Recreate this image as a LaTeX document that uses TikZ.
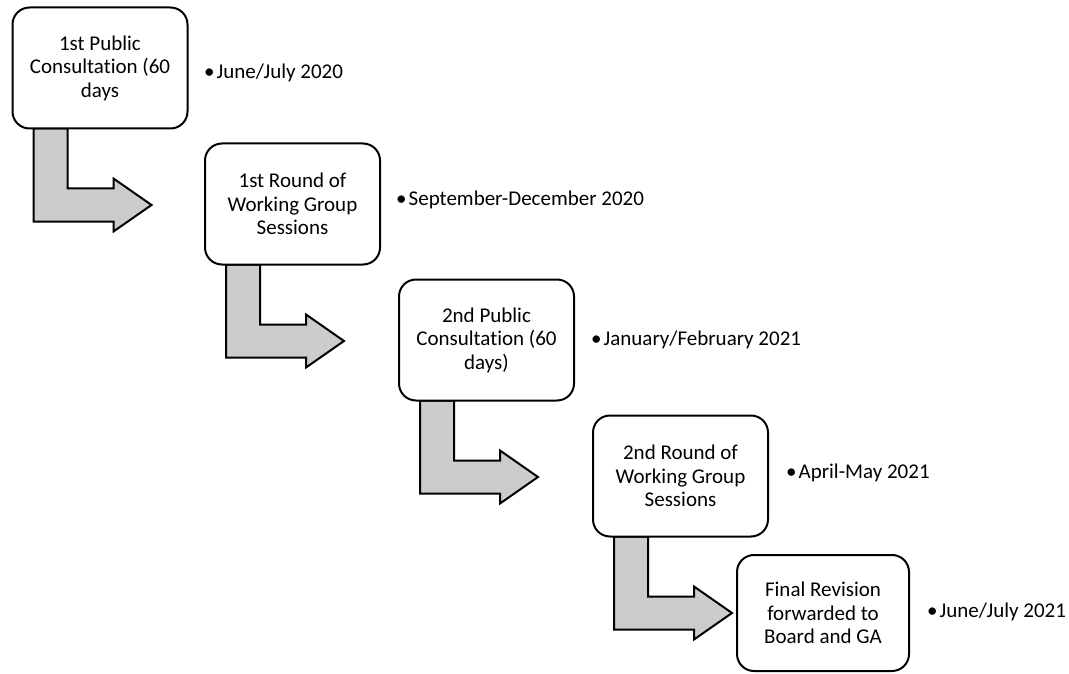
\documentclass[tikz,border=0pt]{standalone}
\usepackage{fontspec}
\setmainfont{Carlito}[Ligatures=NoCommon]
\definecolor{arrowgray}{RGB}{204,204,204}
\pgfdeclarelayer{background}
\pgfsetlayers{background,main}
\newcommand{\bentarr}[1]{%
  \draw[bentarrow]
    ([shift={(21,0)}]#1.south west) --
    ([shift={(55,0)}]#1.south west) --
    ([shift={(55,60)}]#1.south west) --
    ([shift={(101,60)}]#1.south west) --
    ([shift={(101,50)}]#1.south west) --
    ([shift={(139,76.5)}]#1.south west) --
    ([shift={(101,103)}]#1.south west) --
    ([shift={(101,93)}]#1.south west) --
    ([shift={(21,93)}]#1.south west) -- cycle;}
\newcommand{\bul}{\textbullet\hspace{2pt}}
\begin{document}
\begin{tikzpicture}[x=1pt,y=-1pt,
  stepbox/.style={draw=black, line width=2pt, fill=white, rounded corners=17pt,
    minimum width=175pt, minimum height=121pt, inner sep=0pt, outer sep=0pt,
    align=center, font=\fontsize{21}{23.5}\selectfont},
  datelabel/.style={anchor=west, inner sep=0pt, font=\fontsize{21}{24}\selectfont},
  bentarrow/.style={draw=black, line width=2pt, fill=arrowgray, line join=miter}]
\useasboundingbox (0,0) rectangle (1069,674);

\node[stepbox] (b1) at (100,68) {1st Public\\Consultation (60\\days};
\node[stepbox] (b2) at (292.5,204) {1st Round of\\Working Group\\Sessions};
\node[stepbox] (b3) at (486.5,340) {2nd Public\\Consultation (60\\days)};
\node[stepbox] (b4) at (680.5,476) {2nd Round of\\Working Group\\Sessions};
\node[stepbox, minimum width=172pt, minimum height=116pt] (b5) at (823,613) {Final Revision\\forwarded to\\Board and GA};

\node[datelabel] (l1) at (204,73) {\bul June/July 2020};
\node[datelabel] (l2) at (396,200) {\bul September-December 2020};
\node[datelabel] (l3) at (591,340) {\bul January/February 2021};
\node[datelabel] (l4) at (786,473) {\bul April-May 2021};
\node[datelabel] (l5) at (927,612) {\bul June/July 2021};

\begin{pgfonlayer}{background}
\bentarr{b1}
\bentarr{b2}
\bentarr{b3}
\bentarr{b4}
\end{pgfonlayer}
\end{tikzpicture}
\end{document}
